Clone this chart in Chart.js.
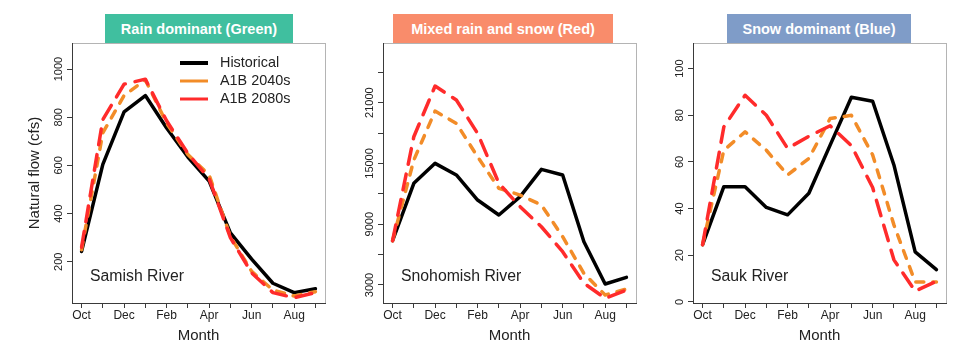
<!DOCTYPE html>
<html>
<head>
<meta charset="utf-8">
<title>Natural flow by month</title>
<script src="https://cdn.jsdelivr.net/npm/chart.js@4.4.0/dist/chart.umd.min.js"></script>
<style>
  html, body { margin: 0; padding: 0; background: #fff; }
  #wrap { position: relative; width: 976px; height: 349px; overflow: hidden; }
  #wrap canvas { position: absolute; top: 0; }
  .tag {
    position: absolute; top: 14px; height: 29px;
    font: bold 14.5px "Liberation Sans", Arial, sans-serif;
    line-height: 30px; color: #fff; text-align: center;
  }
</style>
</head>
<body>
<div id="wrap">
  <div class="tag" style="left:105px;width:188px;background:#40bf9f">Rain dominant (Green)</div>
  <div class="tag" style="left:393px;width:220px;background:#f98c6b">Mixed rain and snow (Red)</div>
  <div class="tag" style="left:727px;width:184px;background:#7f9cc8">Snow dominant (Blue)</div>
  <canvas id="c1" width="330" height="349" style="left:0px"></canvas>
  <canvas id="c2" width="320" height="349" style="left:330px"></canvas>
  <canvas id="c3" width="326" height="349" style="left:650px"></canvas>
</div>
<script>
const months = ['Oct', 'Nov', 'Dec', 'Jan', 'Feb', 'Mar', 'Apr', 'May', 'Jun', 'Jul', 'Aug', 'Sep'];
const seriesNames = ['Historical', 'A1B 2040s', 'A1B 2080s'];

// Samish River - rain dominant
const samishHist = [243, 604, 822, 890, 755, 635, 535, 320, 211, 111, 72, 88];
const samish2040 = [250, 735, 890, 955, 775, 645, 560, 305, 160, 83, 58, 76];
const samish2080 = [260, 790, 937, 958, 785, 650, 545, 300, 154, 72, 51, 72];
const samishTicks = [200, 400, 600, 800, 1000];
const samishTickLabels = ['200', '400', '600', '800', '1000'];

// Snohomish River - mixed rain and snow
const snoHist = [7370, 13040, 15010, 13860, 11390, 9910, 11720, 14420, 13860, 7270, 3100, 3760];
const sno2040 = [7370, 15340, 20170, 18960, 15660, 12540, 11880, 10900, 7770, 4150, 2010, 2600];
const sno2080 = [7370, 17640, 22640, 21260, 17970, 13040, 10730, 8750, 6290, 3170, 1690, 2500];
const snoTicks = [3000, 6000, 9000, 12000, 15000, 18000, 21000, 24000];
const snoTickLabels = ['3000', '', '9000', '', '15000', '', '21000', ''];

// Sauk River - snow dominant
const saukHist = [24.5, 49.4, 49.4, 40.5, 37.3, 46.6, 67.2, 87.7, 86, 58.7, 21.4, 13.8];
const sauk2040 = [24.5, 65, 72.9, 65, 54.4, 61.5, 78.6, 80, 63, 33, 8.5, 8.5];
const sauk2080 = [24.5, 75, 88.6, 80, 65.8, 71, 75.5, 67, 49, 18, 4.6, 8.8];
const saukTicks = [0, 20, 40, 60, 80, 100];
const saukTickLabels = ['0', '20', '40', '60', '80', '100'];

const FONT = '"Liberation Sans", Arial, Helvetica, sans-serif';
const INK = '#222';
const AXIS = '#3a3a3a';
const BOX = '#b4b4b4';
const ORANGE = '#f28c28';
const RED = '#ff2b2b';

function widestLabel(labels, size) {
  const c = document.createElement('canvas').getContext('2d');
  c.font = size + 'px ' + FONT;
  return Math.max(...labels.map(l => c.measureText(l).width));
}

// gray frame, legend and river name
const panelText = {
  id: 'panelText',
  beforeDraw(chart) {
    const {ctx, chartArea: a} = chart;
    ctx.save();
    ctx.strokeStyle = BOX;
    ctx.lineWidth = 1;
    ctx.strokeRect(Math.round(a.left) + 0.5, Math.round(a.top) + 0.5, Math.round(a.right - a.left), Math.round(a.bottom - a.top));
    ctx.restore();
  },
  afterDraw(chart, args, opts) {
    const {ctx, chartArea: a} = chart;
    ctx.save();
    ctx.fillStyle = INK;
    ctx.textBaseline = 'middle';
    ctx.textAlign = 'left';
    ctx.font = '15.8px ' + FONT;
    ctx.fillText(opts.river, a.left + 18, a.bottom - 26);
    if (opts.legend) {
      ctx.font = '14.4px ' + FONT;
      chart.data.datasets.forEach((ds, i) => {
        const y = a.top + 20 + i * 18;
        ctx.strokeStyle = ds.borderColor;
        ctx.lineWidth = i === 0 ? 4 : 3;
        ctx.lineCap = 'butt';
        ctx.beginPath();
        ctx.moveTo(a.left + 108, y);
        ctx.lineTo(a.left + 136, y);
        ctx.stroke();
        ctx.fillStyle = INK;
        ctx.fillText(ds.label, a.left + 148, y);
      });
    }
    ctx.restore();
  }
};

function toPoints(vals) {
  return vals.map((v, i) => ({x: i, y: v}));
}

function makePanel(id, p) {
  const widest = widestLabel(p.tickLabels, 11);
  const yScale = {
    type: 'linear',
    min: p.yMin,
    max: p.yMax,
    afterBuildTicks: s => { s.ticks = p.ticks.map(v => ({value: v})); },
    afterFit: s => { s.width = p.yWidth; },
    grid: { drawOnChartArea: false, drawTicks: true, tickLength: 5, color: AXIS },
    border: { display: true, color: AXIS, width: 1 },
    ticks: {
      minRotation: 90, maxRotation: 90, crossAlign: 'center',
      padding: 8 - widest / 2,
      color: INK, font: { family: FONT, size: 11 },
      callback: (v, i) => p.tickLabels[i]
    },
    title: p.yTitle ? {
      display: true, text: p.yTitle, color: INK,
      font: { family: FONT, size: 15 }, padding: { top: 26, bottom: 0 }
    } : { display: false }
  };
  new Chart(document.getElementById(id), {
    type: 'line',
    data: {
      datasets: [
        { label: seriesNames[0], data: toPoints(p.hist), borderColor: '#000', borderWidth: 3.5, order: 2 },
        { label: seriesNames[1], data: toPoints(p.mid), borderColor: ORANGE, borderWidth: 3.5, borderDash: [8, 9], order: 1 },
        { label: seriesNames[2], data: toPoints(p.late), borderColor: RED, borderWidth: 3.5, borderDash: [16, 10], order: 0 }
      ]
    },
    options: {
      responsive: false,
      animation: false,
      devicePixelRatio: 1,
      layout: { padding: { top: 43, right: p.padRight, bottom: 0, left: 0 } },
      elements: {
        point: { radius: 0 },
        line: { tension: 0, fill: false, borderCapStyle: 'round', borderJoinStyle: 'round' }
      },
      plugins: {
        legend: { display: false },
        tooltip: { enabled: false },
        panelText: { river: p.river, legend: p.legend }
      },
      scales: {
        x: {
          type: 'linear',
          min: -0.45,
          max: 11.45,
          afterBuildTicks: s => { s.ticks = months.map((m, i) => ({value: i})); },
          afterFit: s => { s.height = 46; },
          grid: { drawOnChartArea: false, drawTicks: true, tickLength: 5, color: AXIS },
          border: { display: true, color: AXIS, width: 1 },
          ticks: {
            autoSkip: false, maxRotation: 0, padding: 0,
            color: INK, font: { family: FONT, size: 12 },
            callback: (v, i) => (i % 2 ? '' : months[i])
          },
          title: {
            display: true, text: 'Month', color: INK,
            font: { family: FONT, size: 15 }, padding: { top: 0, bottom: 4 }
          }
        },
        y: yScale
      }
    },
    plugins: [panelText]
  });
}

makePanel('c1', {
  hist: samishHist, mid: samish2040, late: samish2080,
  ticks: samishTicks, tickLabels: samishTickLabels,
  yMin: 29, yMax: 1108, yWidth: 72, padRight: 5,
  yTitle: 'Natural flow (cfs)', river: 'Samish River', legend: true
});

makePanel('c2', {
  hist: snoHist, mid: sno2040, late: sno2080,
  ticks: snoTicks, tickLabels: snoTickLabels,
  yMin: 1223, yMax: 26890, yWidth: 53, padRight: 14,
  river: 'Snohomish River', legend: false
});

makePanel('c3', {
  hist: saukHist, mid: sauk2040, late: sauk2080,
  ticks: saukTicks, tickLabels: saukTickLabels,
  yMin: -0.5, yMax: 111, yWidth: 43, padRight: 30,
  river: 'Sauk River', legend: false
});
</script>
</body>
</html>
